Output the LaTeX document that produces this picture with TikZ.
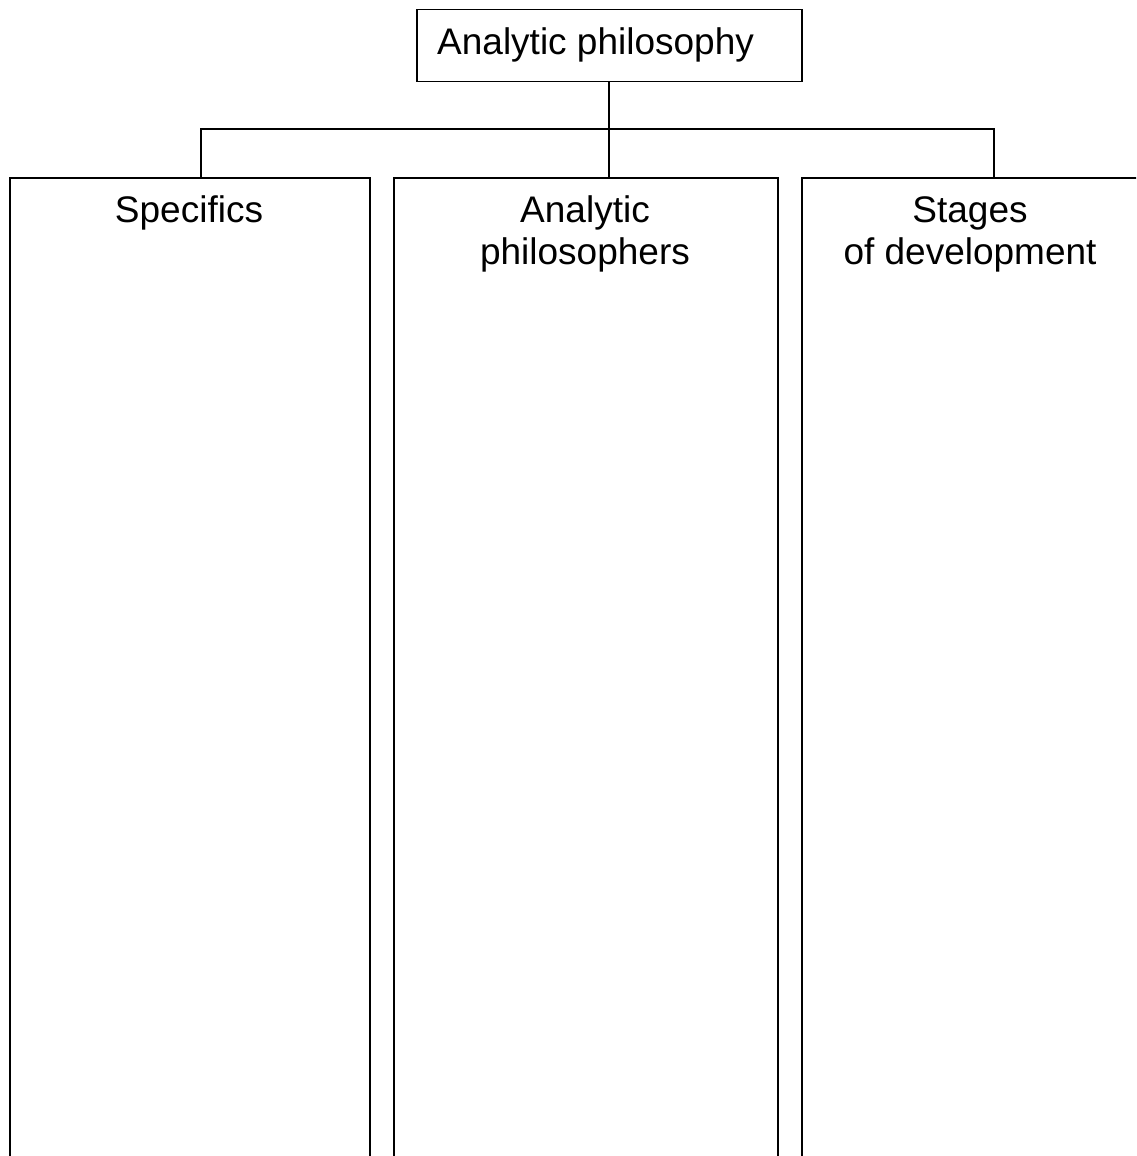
\documentclass[tikz,border=0pt]{standalone}
\usepackage{fontspec}
\setmainfont{Liberation Sans}
\begin{document}
\begin{tikzpicture}[x=1pt, y=-1pt,
  frame/.style={draw=black, line width=1.5pt, inner sep=0pt, anchor=north west},
  link/.style={draw=black, line width=1.5pt},
  caption/.style={inner sep=0pt, align=center, font=\fontsize{37}{42}\selectfont}]
  \useasboundingbox (0,0) rectangle (1136,1156);
  \clip (0,0) rectangle (1136,1156);

  % root box
  \node[frame, minimum width=385pt, minimum height=71.5pt] (root) at (416,9) {};
  \node[caption, anchor=base west] (rootlabel) at (437,55) {Analytic philosophy};

  % three open-ended columns
  \node[frame, minimum width=360pt, minimum height=1100pt] (spec) at (9,177) {};
  \node[frame, minimum width=384pt, minimum height=1100pt] (phil) at (393,177) {};
  \node[frame, minimum width=384pt, minimum height=1100pt] (stage) at (801,177) {};

  % column headings (anchor base = baseline of the last line)
  \node[caption, anchor=base] (speclabel) at (189,222) {Specifics};
  \node[caption, anchor=base] (phillabel) at (585,264) {Analytic\\philosophers};
  \node[caption, anchor=base] (stagelabel) at (970,264) {Stages\\of development};

  % tree connectors
  \coordinate (bus) at (609,129);
  \coordinate (specjoin) at (201,177);
  \path[link] (root.south -| bus) -- (phil.north -| bus);
  \path[link] (specjoin) |- (bus) -| (stage.north);
\end{tikzpicture}
\end{document}
